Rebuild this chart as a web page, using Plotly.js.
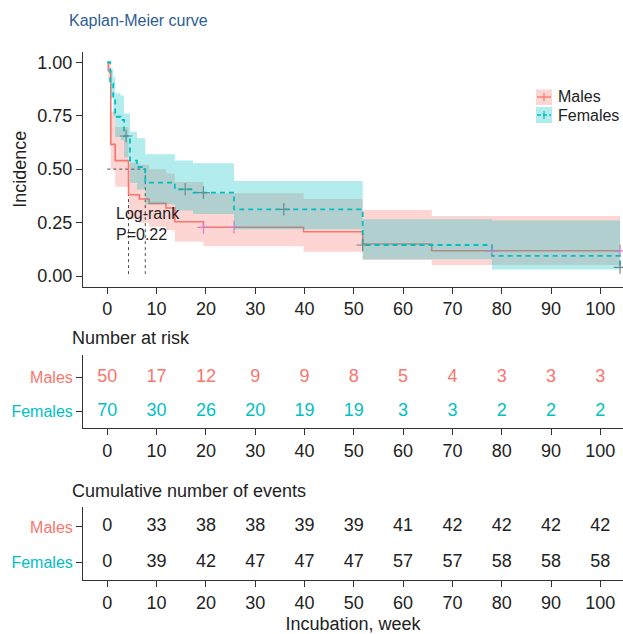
<!DOCTYPE html>
<html>
<head>
<meta charset="utf-8">
<script src="https://cdn.plot.ly/plotly-3.0.1.min.js"></script>
<style>html,body{margin:0;padding:0;background:#fff;}#chart{width:623px;height:634px;}</style>
</head>
<body>
<div id="chart"></div>
<script>
// ---------- data ----------
const maleT    = [0, 0.2, 0.7, 1.6, 4.3, 6.5, 8.5, 11.9, 13.7, 19.5, 39.8, 51.8, 65.8, 104];
const maleS    = [1, 0.96, 0.616, 0.54, 0.38, 0.36, 0.34, 0.318, 0.254, 0.228, 0.207, 0.15, 0.118, 0.118];
const maleLo   = [1, 0.907, 0.50, 0.418, 0.265, 0.249, 0.231, 0.214, 0.16, 0.139, 0.114, 0.075, 0.051, 0.051];
const maleHi   = [1, 1.0, 0.77, 0.697, 0.53, 0.52, 0.50, 0.48, 0.44, 0.387, 0.36, 0.309, 0.281, 0.281];
const maleCensT = [19.5, 25.7, 78, 104];
const maleCensS = [0.228, 0.228, 0.118, 0.118];

const femaleT  = [0, 0.6, 1.2, 1.6, 2.7, 3.4, 4.6, 6.0, 7.7, 13.7, 17.4, 25.7, 51.8, 78, 104];
const femaleS  = [1, 0.9, 0.83, 0.745, 0.73, 0.655, 0.54, 0.51, 0.437, 0.406, 0.39, 0.312, 0.145, 0.094, 0.04];
const femaleLo = [1, 0.83, 0.75, 0.65, 0.635, 0.555, 0.435, 0.405, 0.335, 0.306, 0.29, 0.219, 0.078, 0.031, 0.031];
const femaleHi = [1, 0.97, 0.93, 0.855, 0.845, 0.76, 0.675, 0.645, 0.57, 0.54, 0.527, 0.445, 0.265, 0.26, 0.26];
const femaleCensT = [3.8, 15.8, 19.5, 35.8, 51.8, 104];
const femaleCensS = [0.655, 0.406, 0.39, 0.312, 0.145, 0.04];

const medianMales = 4.3;
const medianFemales = 7.7;
const pValueText = "P=0.22";

const tableTimes    = [0, 10, 20, 30, 40, 50, 60, 70, 80, 90, 100];
const riskMales     = [50, 17, 12, 9, 9, 8, 5, 4, 3, 3, 3];
const riskFemales   = [70, 30, 26, 20, 19, 19, 3, 3, 2, 2, 2];
const eventsMales   = [0, 33, 38, 38, 39, 39, 41, 42, 42, 42, 42];
const eventsFemales = [0, 39, 42, 47, 47, 47, 57, 57, 58, 58, 58];
const groupNames = ["Males", "Females"];
const yTicks = [0, 0.25, 0.5, 0.75, 1];

// ---------- styling ----------
const RED = "#F8766D", TEAL = "#00BFC4";
const FONT = "Liberation Sans, Arial, Helvetica, sans-serif";
const INK = "#222";
const W = 623, H = 634;
const px = v => v / W, py = v => 1 - v / H;

function stepPoly(t, lo, hi) {
  const xs = [], ys = [];
  for (let i = 0; i < t.length - 1; i++) { xs.push(t[i], t[i + 1]); ys.push(hi[i], hi[i]); }
  for (let i = t.length - 2; i >= 0; i--) { xs.push(t[i + 1], t[i]); ys.push(lo[i], lo[i]); }
  return { xs, ys };
}
const mp = stepPoly(maleT, maleLo, maleHi);
const fp = stepPoly(femaleT, femaleLo, femaleHi);

const traces = [
  // male confidence band (below lines)
  { x: mp.xs, y: mp.ys, mode: "lines", fill: "toself", fillcolor: "rgba(248,118,109,0.3)",
    line: { width: 0 }, hoverinfo: "skip" },
  // median guide lines
  { x: [0, Math.max(medianMales, medianFemales)], y: [0.5, 0.5], mode: "lines",
    line: { color: INK, width: 0.8, dash: "3px,3px" }, hoverinfo: "skip" },
  { x: [medianMales, medianMales], y: [0.5, 0], mode: "lines",
    line: { color: INK, width: 0.8, dash: "3px,3px" }, hoverinfo: "skip" },
  { x: [medianFemales, medianFemales], y: [0.5, 0], mode: "lines",
    line: { color: INK, width: 0.8, dash: "3px,3px" }, hoverinfo: "skip" },
  // survival step lines
  { x: maleT, y: maleS, mode: "lines", line: { color: RED, width: 1.6, shape: "hv" }, name: "Males" },
  { x: femaleT, y: femaleS, mode: "lines", line: { color: TEAL, width: 1.8, shape: "hv", dash: "5px,4px" }, name: "Females" },
  // censor marks
  { x: maleCensT, y: maleCensS, mode: "markers",
    marker: { symbol: "cross-thin-open", size: 9, line: { color: RED, width: 1.2 } } },
  { x: femaleCensT, y: femaleCensS, mode: "markers",
    marker: { symbol: "cross-thin-open", size: 9, line: { color: TEAL, width: 1.2 } } },
  // female confidence band (on top)
  { x: fp.xs, y: fp.ys, mode: "lines", fill: "toself", fillcolor: "rgba(0,191,196,0.3)",
    line: { width: 0 }, hoverinfo: "skip" },
  // number at risk table
  { x: tableTimes, y: tableTimes.map(() => 2), text: riskMales.map(String), mode: "text",
    textfont: { color: RED, size: 18, family: FONT }, xaxis: "x2", yaxis: "y2" },
  { x: tableTimes, y: tableTimes.map(() => 1), text: riskFemales.map(String), mode: "text",
    textfont: { color: TEAL, size: 18, family: FONT }, xaxis: "x2", yaxis: "y2" },
  // cumulative events table
  { x: tableTimes, y: tableTimes.map(() => 2), text: eventsMales.map(String), mode: "text",
    textfont: { color: INK, size: 18, family: FONT }, xaxis: "x3", yaxis: "y3" },
  { x: tableTimes, y: tableTimes.map(() => 1), text: eventsFemales.map(String), mode: "text",
    textfont: { color: INK, size: 18, family: FONT }, xaxis: "x3", yaxis: "y3" }
];

const xRange = [-4.93, 104.6];
const axisCommon = {
  showgrid: false, zeroline: false, showline: true, linecolor: "#333", linewidth: 1,
  ticks: "outside", ticklen: 6, tickcolor: "#333", tickwidth: 1,
  tickfont: { size: 18, color: INK, family: FONT }, automargin: false
};
const rowFont = { size: 16, color: INK, family: FONT };
const xTicks = tableTimes;

const rowTickText = [
  '<span style="color:' + TEAL + '">' + groupNames[1] + '</span>',
  '<span style="color:' + RED + '">' + groupNames[0] + '</span>'
];

const layout = {
  width: W, height: H,
  margin: { l: 0, r: 0, t: 0, b: 0 },
  paper_bgcolor: "#fff", plot_bgcolor: "#fff",
  showlegend: false,
  font: { family: FONT, color: INK },
  title: { text: "Kaplan-Meier curve", x: px(69), xanchor: "left", y: py(20), yanchor: "middle",
           font: { size: 16, color: "#2E5D94", family: FONT } },
  xaxis: Object.assign({}, axisCommon, { domain: [px(83), 1], range: xRange, tickvals: xTicks, anchor: "y" }),
  yaxis: Object.assign({}, axisCommon, { domain: [py(286.7), py(52)], range: [-0.05, 1.048],
           tickvals: yTicks, tickformat: ".2f", anchor: "x",
           title: { text: "Incidence", font: { size: 18, color: INK, family: FONT }, standoff: 6 } }),
  xaxis2: Object.assign({}, axisCommon, { domain: [px(83), 1], range: xRange, tickvals: xTicks, anchor: "y2" }),
  yaxis2: Object.assign({}, axisCommon, { domain: [py(428), py(355)], range: [0.5, 2.647],
           tickvals: [1, 2], ticktext: rowTickText, tickfont: rowFont, anchor: "x2" }),
  xaxis3: Object.assign({}, axisCommon, { domain: [px(83), 1], range: xRange, tickvals: xTicks, anchor: "y3",
           title: { text: "Incubation, week", font: { size: 18, color: INK, family: FONT }, standoff: 6 } }),
  yaxis3: Object.assign({}, axisCommon, { domain: [py(580), py(507)], range: [0.486, 2.57],
           tickvals: [1, 2], ticktext: rowTickText, tickfont: rowFont, anchor: "x3" }),
  annotations: [
    { text: "Log-rank<br>" + pValueText, x: 1.4, y: 0.243, xref: "x", yref: "y", xanchor: "left", yanchor: "middle",
      align: "left", showarrow: false, font: { size: 16, color: INK, family: FONT } },
    { text: "Number at risk", x: px(70), y: py(338), xref: "paper", yref: "paper", xanchor: "left", yanchor: "middle",
      showarrow: false, font: { size: 18, color: INK, family: FONT } },
    { text: "Cumulative number of events", x: px(70), y: py(491), xref: "paper", yref: "paper", xanchor: "left",
      yanchor: "middle", showarrow: false, font: { size: 18, color: INK, family: FONT } },
    { text: groupNames[0], x: px(556), y: py(97), xref: "paper", yref: "paper", xanchor: "left", yanchor: "middle",
      showarrow: false, font: { size: 16, color: INK, family: FONT } },
    { text: groupNames[1], x: px(556), y: py(116), xref: "paper", yref: "paper", xanchor: "left", yanchor: "middle",
      showarrow: false, font: { size: 16, color: INK, family: FONT } }
  ],
  shapes: [
    { type: "rect", xref: "paper", yref: "paper", x0: px(536), x1: px(552), y0: py(105), y1: py(89.5),
      fillcolor: "rgba(248,118,109,0.3)", line: { width: 0 } },
    { type: "rect", xref: "paper", yref: "paper", x0: px(536), x1: px(552), y0: py(123), y1: py(107),
      fillcolor: "rgba(0,191,196,0.3)", line: { width: 0 } },
    { type: "line", xref: "paper", yref: "paper", x0: px(537), x1: px(551), y0: py(97), y1: py(97),
      line: { color: RED, width: 1.3 } },
    { type: "line", xref: "paper", yref: "paper", x0: px(544), x1: px(544), y0: py(93), y1: py(101),
      line: { color: RED, width: 1.2 } },
    { type: "line", xref: "paper", yref: "paper", x0: px(537), x1: px(551), y0: py(115), y1: py(115),
      line: { color: TEAL, width: 1.5, dash: "4px,2px" } },
    { type: "line", xref: "paper", yref: "paper", x0: px(544), x1: px(544), y0: py(111), y1: py(119),
      line: { color: TEAL, width: 1.2 } }
  ]
};

Plotly.newPlot("chart", traces, layout, { staticPlot: true, displayModeBar: false });
</script>
</body>
</html>
